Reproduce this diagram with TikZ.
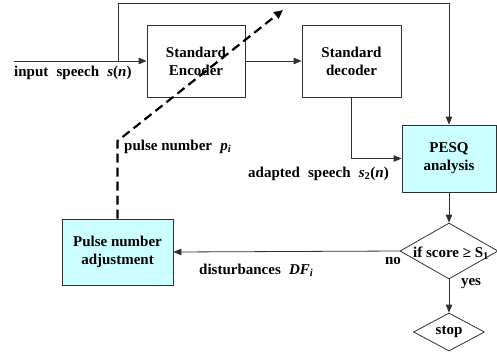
\documentclass[tikz,border=0pt]{standalone}
\usepackage{fontspec}
\setmainfont{Liberation Serif}
\usetikzlibrary{arrows.meta,shapes.geometric}
\definecolor{boxfill}{HTML}{CCFFFF}
\definecolor{linegray}{HTML}{303030}
\newcommand{\lbl}{\fontsize{15}{18}\selectfont\bfseries}
\newcommand{\wsp}{\hspace{0.55em}}
\begin{document}
\begin{tikzpicture}[x=1pt,y=-1pt,
  blk/.style={draw=linegray,line width=0.8pt,rectangle,inner sep=0pt,align=center,font=\lbl},
  fblk/.style={blk,fill=boxfill},
  dia/.style={draw=linegray,line width=0.8pt,diamond,inner sep=0pt},
  txt/.style={font=\lbl,inner sep=0pt},
  arr/.style={draw=linegray,line width=0.8pt,-{Triangle[length=8pt,width=6.5pt]}},
  dasharr/.style={draw=black,line width=2.2pt,dash pattern=on 9pt off 5pt,-{Triangle[length=9pt,width=8pt]}}]
\useasboundingbox (0,0) rectangle (497,354);

% blocks
\node[blk,minimum width=98pt,minimum height=72pt] (enc) at (196,61) {Standard\\Encoder};
\node[blk,minimum width=99pt,minimum height=72pt] (dec) at (351.5,61) {Standard\\decoder};
\node[fblk,minimum width=94pt,minimum height=67pt] (pesq) at (449,158.5) {PESQ\\analysis};
\node[fblk,minimum width=111pt,minimum height=66pt] (pulse) at (117.5,252) {Pulse number\\adjustment};
\node[dia,minimum width=98pt,minimum height=56pt] (chk) at (449,251) {};
\node[txt] (chktxt) at (451,253) {if score \symbol{"2265} S\textsubscript{1}};
\node[dia,minimum width=71pt,minimum height=38pt] (stop) at (449,332) {};
\node[txt] (stoptxt) at (stop.center) {stop};

% helper points
\coordinate (in) at (14,61);
\coordinate (tap) at (118,61);
\coordinate (top) at (118,3);
\coordinate (bend) at (117.5,141);
\coordinate (tip) at (283,10);

% connectors
\draw[arr] (in) -- (enc.west);
\draw[arr] (tap) -- (top) -| (pesq.north);
\draw[arr] (enc.east) -- (dec.west);
\draw[arr] (dec.south) |- (pesq.west);
\draw[arr] (pesq.south) -- (chk.north);
\draw[arr] (chk.west) -- (pulse.east);
\draw[arr] (chk.south) -- (stop.north);
\draw[dasharr] (pulse.north) -- (bend) -- (tip);

% labels
\node[txt,anchor=west] (l1) at (14,73) {input\wsp speech\wsp \textit{s}(\textit{n})};
\node[txt,anchor=west] (l2) at (124,147) {pulse number\wsp \textit{p\textsubscript{i}}};
\node[txt,anchor=east] (l3) at (389,174) {adapted\wsp speech\wsp \textit{s}\textsubscript{2}(\textit{n})};
\node[txt,anchor=west] (l4) at (199,270) {disturbances\wsp \textit{DF\textsubscript{i}}};
\node[txt] (l5) at (393,261) {no};
\node[txt] (l6) at (471,284) {yes};
\end{tikzpicture}
\end{document}
